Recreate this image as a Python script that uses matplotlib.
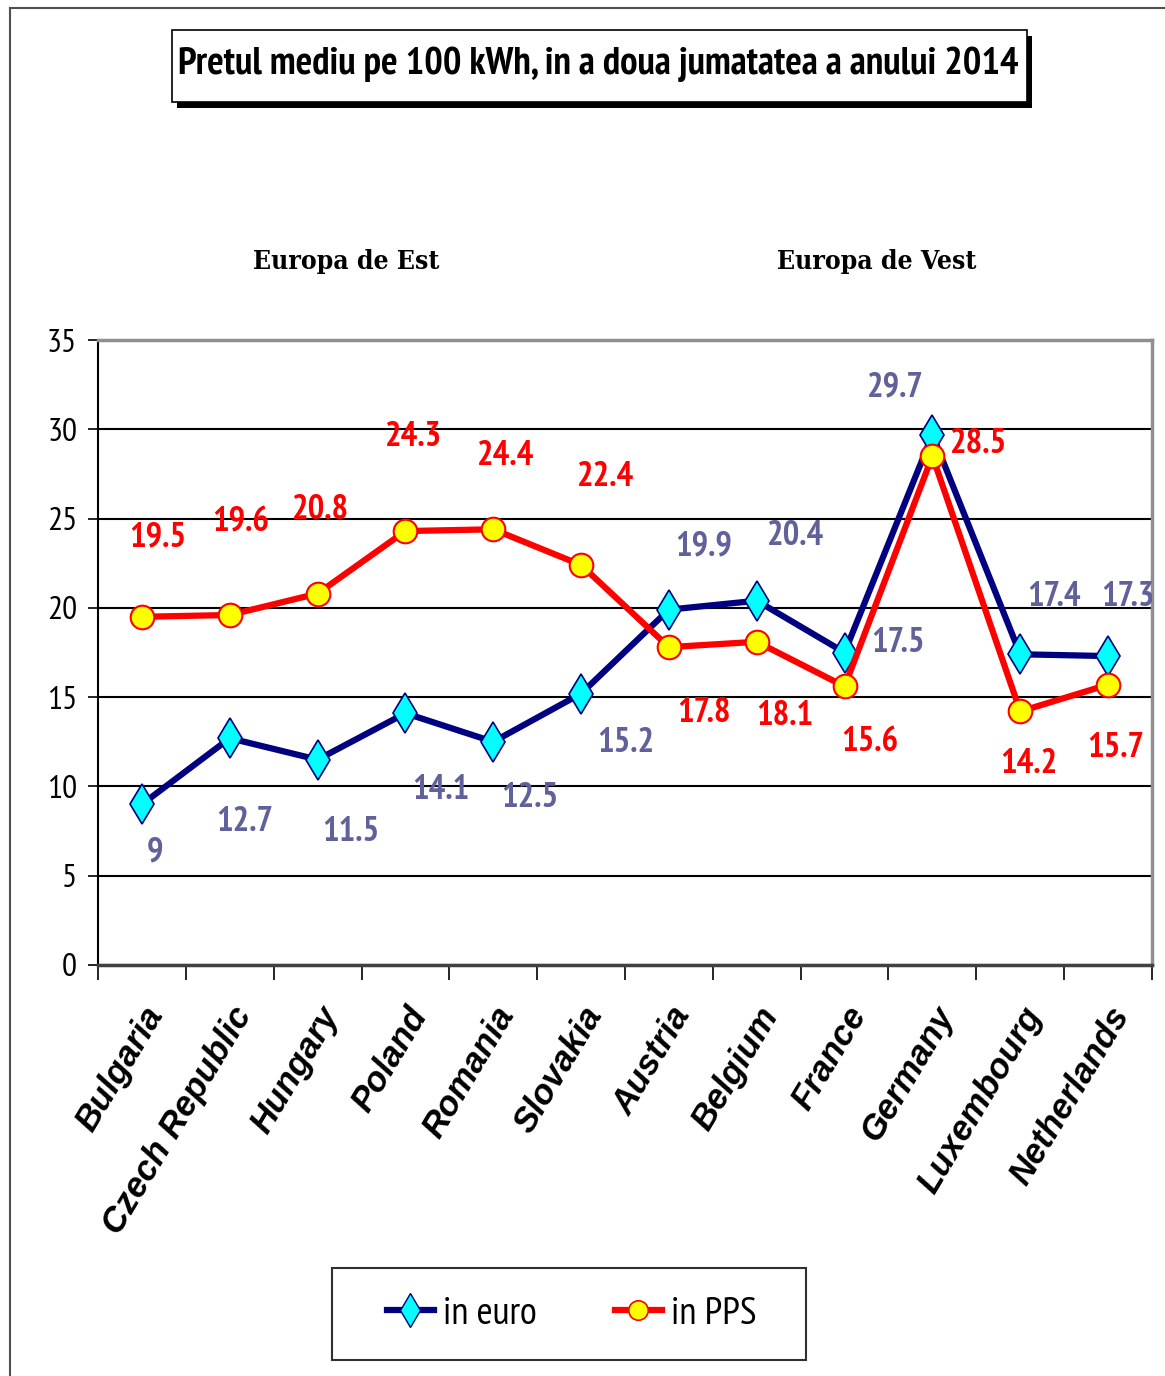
import matplotlib
matplotlib.use("Agg")
import matplotlib.pyplot as plt
from matplotlib.patches import Rectangle
from matplotlib.lines import Line2D

countries = ["Bulgaria", "Czech Republic", "Hungary", "Poland", "Romania", "Slovakia",
             "Austria", "Belgium", "France", "Germany", "Luxembourg", "Netherlands"]
euro = [9, 12.7, 11.5, 14.1, 12.5, 15.2, 19.9, 20.4, 17.5, 29.7, 17.4, 17.3]
pps = [19.5, 19.6, 20.8, 24.3, 24.4, 22.4, 17.8, 18.1, 15.6, 28.5, 14.2, 15.7]

# label offsets in pixels (dx, dy)
euro_off = [(13, -48), (15, -84), (33, -72), (35, -77), (37, -56), (45, -49),
            (35, 63), (39, 65), (53, 10), (-37, 47), (34, 57), (20, 59)]
pps_off = [(16, 79), (11, 93), (3, 84), (8, 94), (12, 73), (25, 88),
           (35, -66), (28, -74), (25, -56), (46, 12), (9, -53), (8, -63)]

W, H = 1165, 1376
NARROW = ["PT Sans Narrow", "DejaVu Sans"]
NAVY = "#000080"
LBL_BLUE = "#60609A"


def fx(px):
    return px / W


def fy(py):
    return 1 - py / H


fig = plt.figure(figsize=(W / 100, H / 100), dpi=100)
ax = fig.add_axes([fx(98), fy(965), fx(1152) - fx(98), fy(340) - fy(965)])

x = list(range(len(countries)))
ax.plot(x, euro, color=NAVY, lw=4.5, marker="d", ms=20, mfc="#00FFFF", mec=NAVY, mew=1.2, zorder=3)
ax.plot(x, pps, color="#FF0000", lw=4.5, marker="o", ms=17, mfc="#FFFF00", mec="#FF0000", mew=1.5, zorder=4)

for i in x:
    ax.annotate(str(euro[i]), (i, euro[i]), xytext=euro_off[i], textcoords="offset pixels",
                ha="center", va="center", color=LBL_BLUE, fontsize=25, fontweight="bold",
                family=NARROW, annotation_clip=False, clip_on=True, zorder=5)
    ax.annotate(str(pps[i]), (i, pps[i]), xytext=pps_off[i], textcoords="offset pixels",
                ha="center", va="center", color="#FF0000", fontsize=25, fontweight="bold",
                family=NARROW, annotation_clip=False, clip_on=True, zorder=5)

ax.set_xlim(-0.5, 11.5)
ax.set_ylim(0, 35)
ax.set_yticks(range(0, 36, 5))
ax.yaxis.grid(True, color="black", lw=1.5)
ax.set_axisbelow(True)
for lbl in ax.get_yticklabels():
    lbl.set_family(NARROW)
    lbl.set_fontsize(24)
ax.tick_params(axis="y", length=7, width=1.2, pad=8)

ax.set_xticks(x)
ax.set_xticklabels(countries, rotation=59, ha="right", va="top", rotation_mode="anchor",
                   fontsize=25, fontweight="bold", fontstyle="italic", family="Liberation Sans")
ax.set_xticks([i - 0.5 for i in range(13)], minor=True)
ax.tick_params(axis="x", which="major", length=0, pad=26)
ax.tick_params(axis="x", which="minor", length=11, width=1.2)

ax.spines["left"].set_color("black")
ax.spines["left"].set_linewidth(1.5)
ax.spines["bottom"].set_color("#404040")
ax.spines["bottom"].set_linewidth(2.5)
for s in ("top", "right"):
    ax.spines[s].set_color("#909090")
    ax.spines[s].set_linewidth(2.5)

# outer frame (left and top edges visible)
fig.add_artist(Line2D([fx(10), fx(10)], [fy(8), 0], color="#505050", lw=1.5, transform=fig.transFigure))
fig.add_artist(Line2D([fx(10), 1], [fy(8), fy(8)], color="#505050", lw=1.5, transform=fig.transFigure))

# title box with shadow
fig.add_artist(Rectangle((fx(177), fy(108)), fx(1032) - fx(177), fy(36) - fy(108),
                         facecolor="black", edgecolor="none", transform=fig.transFigure))
fig.add_artist(Rectangle((fx(172), fy(102)), fx(1027) - fx(172), fy(30) - fy(102),
                         facecolor="white", edgecolor="black", lw=1.2, transform=fig.transFigure))
fig.text(fx(598), fy(64), "Pretul mediu pe 100 kWh, in a doua jumatatea a anului 2014",
         ha="center", va="center", fontsize=28, fontweight="bold", family=NARROW)

fig.text(fx(346), fy(262), "Europa de Est", ha="center", va="center", fontsize=19,
         fontweight="bold", fontstretch="condensed", family="DejaVu Serif")
fig.text(fx(877), fy(262), "Europa de Vest", ha="center", va="center", fontsize=19,
         fontweight="bold", fontstretch="condensed", family="DejaVu Serif")

# legend
fig.add_artist(Rectangle((fx(332), fy(1360)), fx(806) - fx(332), fy(1268) - fy(1360),
                         facecolor="white", edgecolor="#303030", lw=1.5, transform=fig.transFigure))
handles = [Line2D([], [], color=NAVY, lw=4.5, marker="d", ms=17, mfc="#00FFFF", mec=NAVY, mew=1.0),
           Line2D([], [], color="#FF0000", lw=4.5, marker="o", ms=14, mfc="#FFFF00", mec="#FF0000", mew=1.2)]
fig.legend(handles, ["in euro", "in PPS"], loc="center", bbox_to_anchor=(fx(572), fy(1314)),
           ncol=2, frameon=False, numpoints=1, handlelength=1.2, handletextpad=0.25,
           columnspacing=2.0, prop={"family": NARROW, "size": 28})

fig.savefig("out.png", dpi=100)
